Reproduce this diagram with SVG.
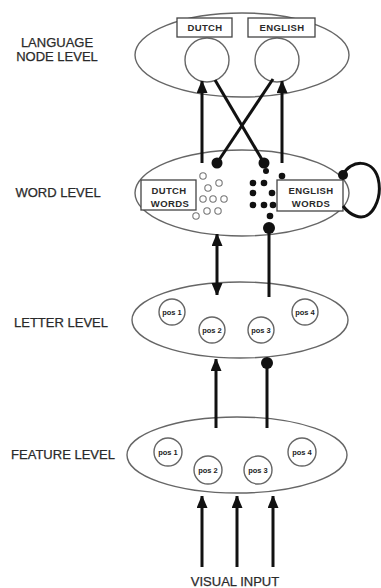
<svg xmlns="http://www.w3.org/2000/svg" width="381" height="588" viewBox="0 0 381 588">
  <style>
    .lvl { font-family: "Liberation Sans", Arial, sans-serif; font-size: 13px; fill: #2a2a2a; stroke: #2a2a2a; stroke-width: 0.25; text-anchor: middle; }
    .box { fill: #fff; stroke: #444; stroke-width: 1.3; }
    .boxt { font-family: "Liberation Sans", Arial, sans-serif; font-size: 9.5px; font-weight: bold; fill: #2a2a2a; text-anchor: middle; letter-spacing: 0.4px; }
    .ell { fill: #fff; stroke: #666; stroke-width: 1.4; }
    .node { fill: #fff; stroke: #666; stroke-width: 1.4; }
    .pos { font-family: "Liberation Sans", Arial, sans-serif; font-size: 7.5px; font-weight: bold; fill: #222; text-anchor: middle; }
    .link { stroke: #111; stroke-width: 3; fill: none; }
    .dot { fill: #111; }
    .odot { fill: #fff; stroke: #777; stroke-width: 1.1; }
  </style>
  <defs>
    <marker id="head" viewBox="0 0 10 12" refX="11" refY="5" markerWidth="4" markerHeight="4.4" orient="auto-start-reverse" markerUnits="strokeWidth">
      <path d="M0,0 L12,5 L0,10 Z" fill="#111"/>
    </marker>
  </defs>
  <rect width="381" height="588" fill="#fff"/>

  <!-- level labels -->
  <g id="labels">
    <text class="lvl" x="57" y="47">LANGUAGE</text>
    <text class="lvl" x="57" y="61">NODE LEVEL</text>
    <text class="lvl" x="58" y="197">WORD LEVEL</text>
    <text class="lvl" x="61" y="327">LETTER LEVEL</text>
    <text class="lvl" x="63" y="459">FEATURE LEVEL</text>
    <text class="lvl" x="235" y="586">VISUAL INPUT</text>
  </g>

  <!-- language node level -->
  <g id="language-level">
    <ellipse class="ell" cx="242" cy="55" rx="107" ry="42"/>
    <circle class="node" cx="207" cy="60" r="22"/>
    <circle class="node" cx="277" cy="60" r="22"/>
    <rect class="box" x="177" y="18" width="55" height="19"/>
    <text class="boxt" x="205" y="31">DUTCH</text>
    <rect class="box" x="248" y="18" width="67" height="19"/>
    <text class="boxt" x="282" y="31">ENGLISH</text>
  </g>

  <!-- word level -->
  <g id="word-level">
    <ellipse class="ell" cx="242" cy="193" rx="107" ry="43"/>
    <rect class="box" x="141" y="180" width="55" height="30"/>
    <text class="boxt" x="169" y="194">DUTCH</text>
    <text class="boxt" x="170" y="207">WORDS</text>
    <rect class="box" x="277" y="180" width="66" height="31"/>
    <text class="boxt" x="311" y="194">ENGLISH</text>
    <text class="boxt" x="311" y="207">WORDS</text>
    <g id="dutch-words">
      <circle class="odot" cx="203" cy="176" r="3.2"/>
      <circle class="odot" cx="219" cy="183" r="3.2"/>
      <circle class="odot" cx="208" cy="188" r="3.2"/>
      <circle class="odot" cx="203" cy="199" r="3.2"/>
      <circle class="odot" cx="213" cy="199" r="3.2"/>
      <circle class="odot" cx="224" cy="199" r="3.2"/>
      <circle class="odot" cx="207" cy="211" r="3.2"/>
      <circle class="odot" cx="218" cy="211" r="3.2"/>
      <circle class="odot" cx="196" cy="216" r="3.2"/>
    </g>
    <g id="english-words">
      <circle class="dot" cx="282" cy="176" r="3.3"/>
      <circle class="dot" cx="253" cy="183" r="3.3"/>
      <circle class="dot" cx="264" cy="183" r="3.3"/>
      <circle class="dot" cx="253" cy="193" r="3.3"/>
      <circle class="dot" cx="272" cy="193" r="3.3"/>
      <circle class="dot" cx="253" cy="205" r="3.3"/>
      <circle class="dot" cx="264" cy="205" r="3.3"/>
      <circle class="dot" cx="273" cy="205" r="3.3"/>
      <circle class="dot" cx="270" cy="216" r="3.3"/>
    </g>
  </g>

  <!-- letter level -->
  <g id="letter-level">
    <ellipse class="ell" cx="240" cy="320" rx="108" ry="38"/>
    <circle class="node" cx="172" cy="312" r="13"/>
    <text class="pos" x="172" y="315">pos 1</text>
    <circle class="node" cx="212" cy="330" r="13"/>
    <text class="pos" x="212" y="333">pos 2</text>
    <circle class="node" cx="261" cy="330" r="13"/>
    <text class="pos" x="261" y="333">pos 3</text>
    <circle class="node" cx="305" cy="312" r="13"/>
    <text class="pos" x="305" y="315">pos 4</text>
  </g>

  <!-- feature level -->
  <g id="feature-level">
    <ellipse class="ell" cx="237" cy="455" rx="110" ry="38"/>
    <circle class="node" cx="168" cy="452" r="14"/>
    <text class="pos" x="168" y="455">pos 1</text>
    <circle class="node" cx="208" cy="470" r="14"/>
    <text class="pos" x="208" y="473">pos 2</text>
    <circle class="node" cx="258" cy="470" r="14"/>
    <text class="pos" x="258" y="473">pos 3</text>
    <circle class="node" cx="302" cy="452" r="14"/>
    <text class="pos" x="302" y="455">pos 4</text>
  </g>

  <!-- connectors -->
  <g id="connectors">
    <!-- word level to language nodes (excitatory) -->
    <line class="link" x1="202" y1="163" x2="202" y2="81" marker-end="url(#head)"/>
    <line class="link" x1="282" y1="163" x2="282" y2="81" marker-end="url(#head)"/>
    <!-- language nodes to word level (inhibitory) -->
    <line class="link" x1="215" y1="80" x2="264" y2="163"/>
    <line class="link" x1="273" y1="79" x2="217" y2="163"/>
    <circle class="dot" cx="217" cy="163" r="5.5"/>
    <circle class="dot" cx="264" cy="163" r="5.5"/>
    <circle class="dot" cx="266" cy="171" r="3"/>
    <!-- lateral inhibition loop -->
    <path class="link" d="M343,175 C350,160 372,158 378,178 C383,198 372,222 356,216 C350,214 346,210 343,206"/>
    <circle class="dot" cx="343" cy="175" r="5"/>
    <!-- word level and letter level -->
    <line class="link" x1="217" y1="234" x2="217" y2="295" marker-start="url(#head)" marker-end="url(#head)"/>
    <line class="link" x1="269" y1="297" x2="269" y2="229"/>
    <circle class="dot" cx="269" cy="228" r="6"/>
    <!-- letter level and feature level -->
    <line class="link" x1="216" y1="428" x2="216" y2="359" marker-end="url(#head)"/>
    <line class="link" x1="267" y1="428" x2="267" y2="364"/>
    <circle class="dot" cx="267" cy="363" r="6"/>
    <!-- visual input -->
    <line class="link" x1="202" y1="567" x2="202" y2="496" marker-end="url(#head)"/>
    <line class="link" x1="237" y1="567" x2="237" y2="496" marker-end="url(#head)"/>
    <line class="link" x1="273" y1="567" x2="273" y2="496" marker-end="url(#head)"/>
  </g>
</svg>
